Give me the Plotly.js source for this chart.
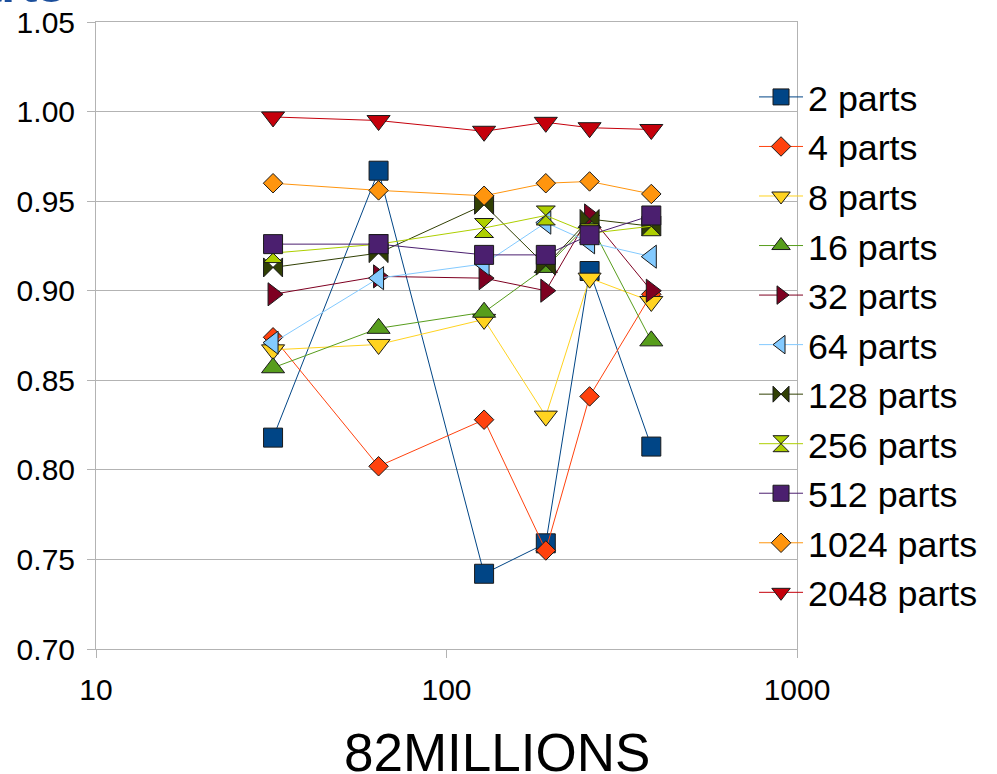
<!DOCTYPE html>
<html>
<head>
<meta charset="utf-8">
<script src="https://cdn.plot.ly/plotly-3.0.1.min.js"></script>
<style>html,body{margin:0;padding:0;background:#fff;}#chart{width:997px;height:774px;}</style>
</head>
<body>
<div id="chart"></div>
<script>
// Data (x = size on log axis; one array per series)
var sizes = [32, 64, 128, 192, 256, 384];
var seriesNames = ["2 parts","4 parts","8 parts","16 parts","32 parts","64 parts","128 parts","256 parts","512 parts","1024 parts","2048 parts"];
var parts2    = [0.818, 0.967, 0.742, 0.759, 0.911, 0.813];
var parts4    = [0.874, 0.802, 0.828, 0.755, 0.841, 0.898];
var parts8    = [0.867, 0.870, 0.884, 0.830, 0.907, 0.894];
var parts16   = [0.857, 0.879, 0.888, 0.913, 0.938, 0.872];
var parts32   = [0.898, 0.908, 0.907, 0.900, 0.942, 0.900];
var parts64   = [0.871, 0.907, 0.915, 0.938, 0.927, 0.919];
var parts128  = [0.913, 0.921, 0.948, 0.914, 0.940, 0.936];
var parts256  = [0.921, 0.926, 0.935, 0.942, 0.932, 0.936];
var parts512  = [0.926, 0.926, 0.920, 0.920, 0.931, 0.942];
var parts1024 = [0.960, 0.956, 0.953, 0.960, 0.961, 0.954];
var parts2048 = [0.997, 0.995, 0.989, 0.994, 0.991, 0.990];
var xTitle = "82MILLIONS";
var titleTail = "parts";

var allValues = [parts2, parts4, parts8, parts16, parts32, parts64, parts128, parts256, parts512, parts1024, parts2048];
var colors = ["#004586","#ff420e","#ffd320","#579d1c","#7e0021","#83caff","#314004","#aecf00","#4b1f6f","#ff950e","#c5000b"];
var symbols = ["square","diamond","triangle-down","triangle-up","triangle-right","triangle-left","bowtie","hourglass","square","diamond","triangle-down"];
var msizes = [19,15,20,20,20,20,19,19,19,15,20];

var FONT = "Liberation Sans, Arial, sans-serif";
var traces = allValues.map(function(v, i){
  return {
    type: "scatter", mode: "lines+markers",
    name: seriesNames[i], x: sizes, y: v,
    line: {color: colors[i], width: 1},
    marker: {symbol: symbols[i], size: msizes[i], color: colors[i], line: {color: "#1a1a1a", width: 1}}
  };
});

var layout = {
  width: 997, height: 774,
  margin: {l: 96, r: 200, t: 22, b: 125, pad: 0},
  paper_bgcolor: "#ffffff", plot_bgcolor: "#ffffff",
  font: {family: FONT, color: "#000000"},
  showlegend: true,
  legend: {x: 0.9387, xanchor: "left", y: 0.928, yanchor: "top", font: {family: FONT, size: 35.8, color: "#000"}, bgcolor: "rgba(0,0,0,0)", itemwidth: 44, tracegroupgap: 0},
  xaxis: {
    type: "log", range: [1, 3], dtick: 1,
    showgrid: false, zeroline: false,
    showline: true, linecolor: "#b3b3b3", linewidth: 1, mirror: true,
    ticks: "outside", ticklen: 8, tickcolor: "#b3b3b3",
    tickfont: {family: FONT, size: 30, color: "#000"},
    ticklabelstandoff: 6
  },
  yaxis: {
    range: [0.70, 1.05], dtick: 0.05, tickformat: ".2f",
    showgrid: true, gridcolor: "#b3b3b3", gridwidth: 1, zeroline: false,
    showline: true, linecolor: "#b3b3b3", linewidth: 1, mirror: true,
    ticks: "outside", ticklen: 8, tickcolor: "#b3b3b3",
    tickfont: {family: FONT, size: 30, color: "#000"},
    ticklabelstandoff: 6
  },
  annotations: [{
    text: titleTail, xref: "paper", yref: "paper",
    x: -0.0428, xanchor: "right", y: 1.0128, yanchor: "bottom",
    showarrow: false, font: {family: FONT, size: 50, color: "#1c4f9c", weight: "bold"}, borderpad: 0
  }, {
    text: xTitle, xref: "paper", yref: "paper",
    x: 0.572, xanchor: "center", y: -0.1643, yanchor: "middle",
    showarrow: false, font: {family: FONT, size: 53, color: "#000"}, borderpad: 0
  }]
};

Plotly.newPlot("chart", traces, layout, {staticPlot: true, displayModeBar: false});
</script>
</body>
</html>
